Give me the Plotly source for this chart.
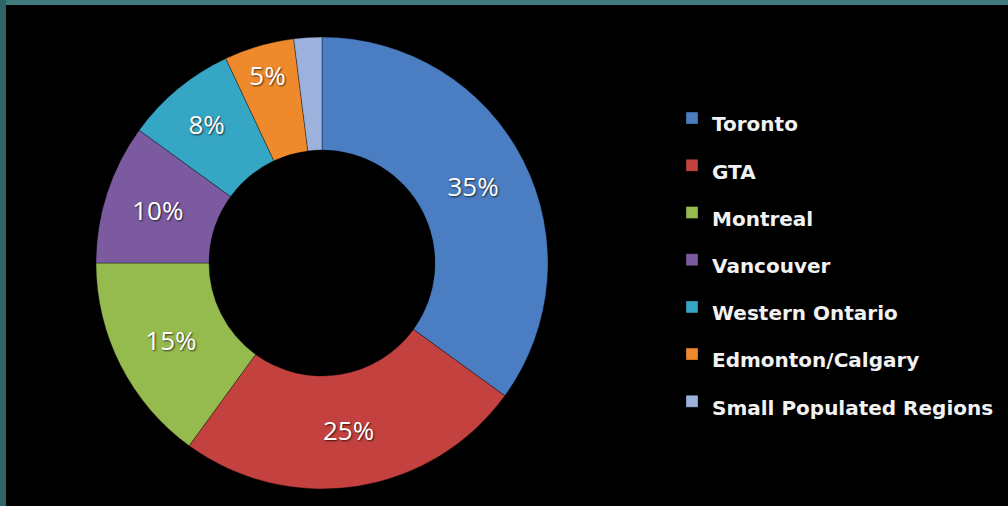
import plotly.graph_objects as go

categories = ["Toronto", "GTA", "Montreal", "Vancouver", "Western Ontario",
              "Edmonton/Calgary", "Small Populated Regions"]
values = [35, 25, 15, 10, 8, 5, 2]
slice_text = ["35%", "25%", "15%", "10%", "8%", "5%", ""]
colors = ["#4a7dc1", "#c3423f", "#95ba4e", "#7b5aa0", "#35a6c4", "#ef8a2c", "#9cb2dc"]

W, H = 1008, 506
cx, cy, R = 322, 263, 226

legend_labels = [
    f"<span style='font-size:20px;font-family:DejaVu Sans;font-weight:bold'>{c}</span>"
    for c in categories
]

fig = go.Figure(go.Pie(
    labels=legend_labels,
    values=values,
    text=slice_text,
    textinfo="text",
    textposition="inside",
    insidetextorientation="horizontal",
    textfont=dict(color="white", size=26, family="Open Sans",
                  shadow="1px 1px 2px rgba(0,0,0,0.7)"),
    hole=0.5,
    sort=False,
    direction="clockwise",
    rotation=0,
    marker=dict(colors=colors, line=dict(color="rgba(0,0,0,0.35)", width=1)),
    domain=dict(x=[(cx - R) / W, (cx + R) / W],
                y=[1 - (cy + R) / H, 1 - (cy - R) / H]),
    showlegend=True,
))

fig.update_layout(
    width=W, height=H,
    margin=dict(l=0, r=0, t=0, b=0),
    paper_bgcolor="black",
    plot_bgcolor="black",
    font=dict(family="Open Sans", color="white"),
    legend=dict(
        x=672 / W, xanchor="left",
        y=1 - 260 / H, yanchor="middle",
        font=dict(size=34, color="#f2f2f2", family="DejaVu Sans"),
        bgcolor="rgba(0,0,0,0)",
        traceorder="normal",
    ),
    shapes=[
        dict(type="rect", xref="paper", yref="paper", x0=0, x1=1,
             y0=1 - 5 / H, y1=1, fillcolor="#3e7a7e", line=dict(width=0)),
        dict(type="rect", xref="paper", yref="paper", x0=0, x1=6 / W,
             y0=0, y1=1, fillcolor="#2f6468", line=dict(width=0)),
    ],
)

fig.write_html(
    "out.html",
    config={"displayModeBar": False},
    post_script="document.body.style.margin='0';document.body.style.overflow='hidden';",
)
